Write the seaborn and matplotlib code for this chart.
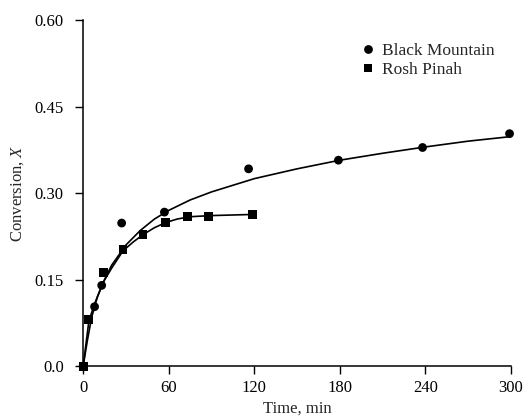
import pandas as pd
import matplotlib
matplotlib.use('Agg')
import matplotlib.pyplot as plt
import seaborn as sns

# measured points (time in min, conversion X)
bm_time = [0, 8, 13, 27, 57, 116, 179, 238, 299]
bm_conv = [0.0, 0.103, 0.140, 0.248, 0.267, 0.342, 0.357, 0.379, 0.403]

rp_time = [0, 4, 14, 28, 42, 58, 73, 88, 119]
rp_conv = [0.0, 0.081, 0.162, 0.202, 0.228, 0.249, 0.260, 0.260, 0.263]

# fitted curves
bm_fit_time = [0, 3, 6, 10, 15, 20, 30, 40, 50, 60, 75, 90, 120, 150, 180, 210, 240, 270, 304]
bm_fit_conv = [0.0, 0.045, 0.085, 0.120, 0.150, 0.175, 0.210, 0.235, 0.255, 0.270, 0.288,
               0.302, 0.325, 0.342, 0.357, 0.369, 0.380, 0.390, 0.399]

rp_fit_time = [0, 4, 8, 14, 20, 28, 35, 42, 50, 58, 66, 75, 90, 105, 120]
rp_fit_conv = [0.0, 0.078, 0.108, 0.145, 0.170, 0.200, 0.215, 0.228, 0.240, 0.249, 0.255,
               0.259, 0.261, 0.262, 0.263]

series = ['Black Mountain', 'Rosh Pinah']

pts = pd.concat([
    pd.DataFrame({'Time': bm_time, 'X': bm_conv, 'Ore': series[0]}),
    pd.DataFrame({'Time': rp_time, 'X': rp_conv, 'Ore': series[1]}),
])
fits = pd.concat([
    pd.DataFrame({'Time': bm_fit_time, 'X': bm_fit_conv, 'Ore': series[0]}),
    pd.DataFrame({'Time': rp_fit_time, 'X': rp_fit_conv, 'Ore': series[1]}),
])

sns.set_style('ticks')
plt.rcParams['font.family'] = ['Liberation Serif', 'DejaVu Serif']
plt.rcParams['mathtext.fontset'] = 'custom'
plt.rcParams['mathtext.it'] = 'Liberation Serif:italic'
plt.rcParams['mathtext.rm'] = 'Liberation Serif'

fig = plt.figure(figsize=(5.23, 4.17), dpi=100)
ax = fig.add_axes([0.159, 0.122, 0.818, 0.830])

sns.lineplot(data=fits, x='Time', y='X', units='Ore', estimator=None, color='black',
             linewidth=1.2, legend=False, ax=ax)
sns.scatterplot(data=pts, x='Time', y='X', style='Ore', markers={series[0]: 'o', series[1]: 's'},
                color='black', s=40, edgecolor='black', linewidth=0, ax=ax, zorder=3)

ax.set_xlim(0, 300)
ax.set_ylim(0, 0.60)
ax.set_xticks([0, 60, 120, 180, 240, 300])
ax.set_yticks([0.0, 0.15, 0.30, 0.45, 0.60])
ax.set_yticklabels(['0.0', '0.15', '0.30', '0.45', '0.60'])
ax.tick_params(direction='out', length=6, width=1, labelsize=12, colors='black')
ax.tick_params(axis='y', pad=8)
ax.tick_params(axis='x', pad=4)
sns.despine(ax=ax)
for sp in ['left', 'bottom']:
    ax.spines[sp].set_linewidth(1.1)
    ax.spines[sp].set_color('black')

ax.set_xlabel('Time, min', fontsize=12, labelpad=3)
ax.set_ylabel(r'Conversion, $X$', fontsize=12, labelpad=6)

leg = ax.legend(loc='upper left', bbox_to_anchor=(0.63, 0.955), frameon=False, fontsize=12.5,
                handletextpad=0.3, labelspacing=0.2, handlelength=1.0, borderaxespad=0)
for c in ax.collections:
    c.set_clip_on(False)

fig.savefig('out.png', dpi=100)
